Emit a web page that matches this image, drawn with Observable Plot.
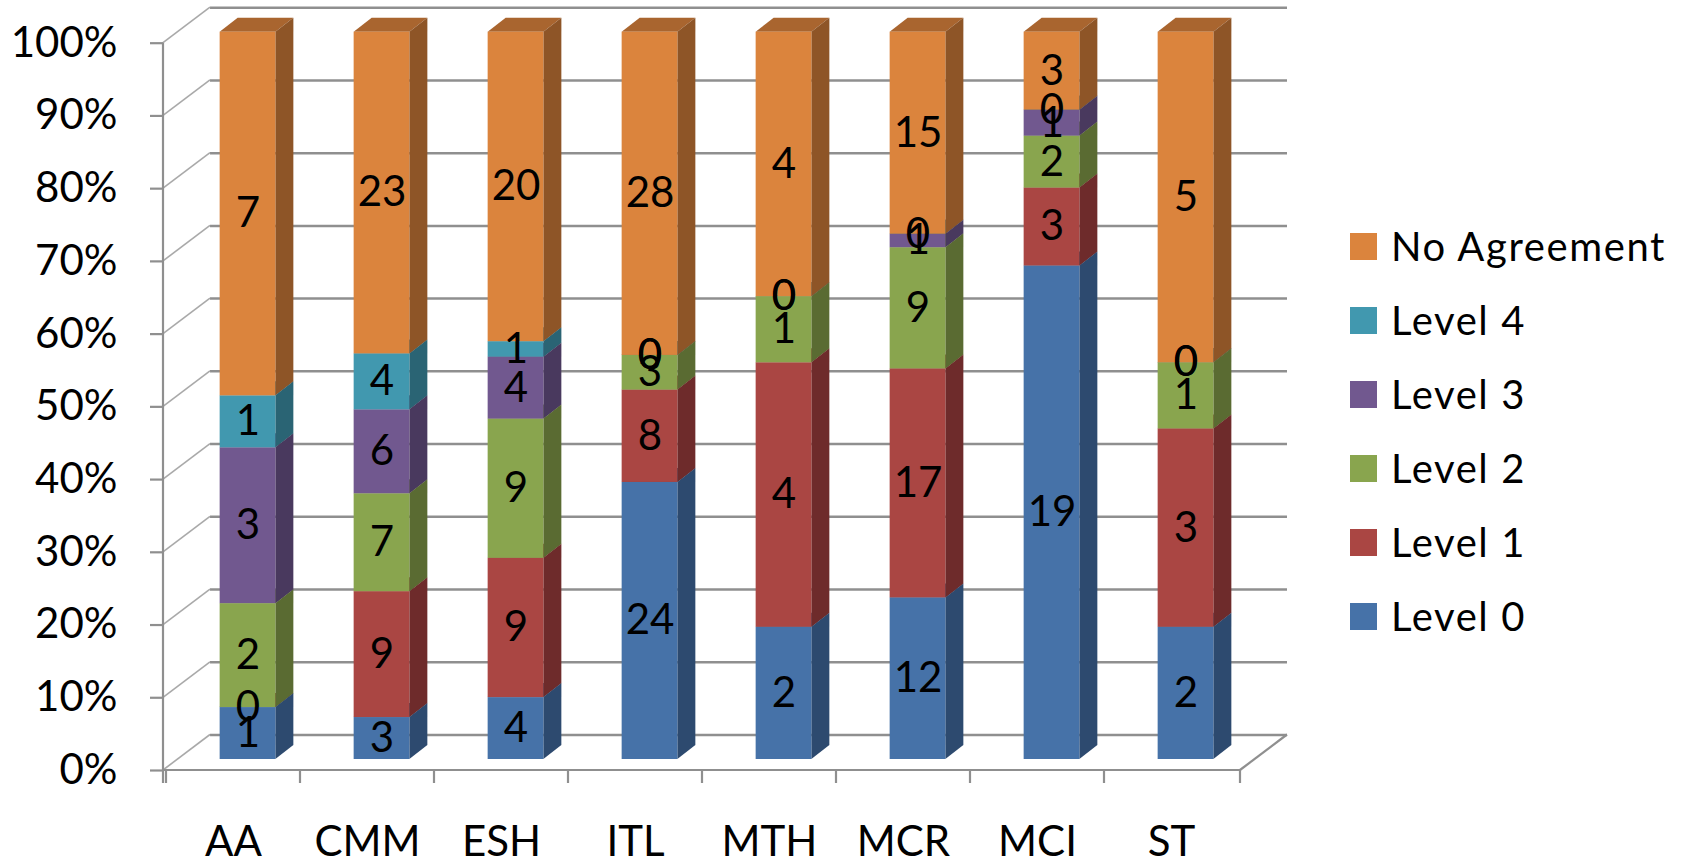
<!DOCTYPE html>
<html>
<head>
<meta charset="utf-8">
<script src="https://cdn.jsdelivr.net/npm/d3@7"></script>
<script src="https://cdn.jsdelivr.net/npm/@observablehq/plot@0.6"></script>
<style>
  html, body { margin: 0; padding: 0; background: #fff; overflow: hidden; }
  #chart { position: relative; width: 1694px; height: 865px; font-family: Lato, sans-serif; }
  #legend { position: absolute; left: 1350px; top: 209px; }
  #legend .item { display: flex; align-items: center; height: 74px; font-size: 40px; letter-spacing: 1.6px; color: #000; white-space: nowrap; }
  #legend .swatch { width: 27px; height: 27px; margin-right: 14px; flex: none; }
</style>
</head>
<body>
<div id="chart"></div>
<script>
// Agreement level counts per subject area
const subjects = ["AA", "CMM", "ESH", "ITL", "MTH", "MCR", "MCI", "ST"];
const levels = ["Level 0", "Level 1", "Level 2", "Level 3", "Level 4", "No Agreement"];
const level0      = [1, 3, 4, 24, 2, 12, 19, 2];
const level1      = [0, 9, 9, 8, 4, 17, 3, 3];
const level2      = [2, 7, 9, 3, 1, 9, 2, 1];
const level3      = [3, 6, 4, 0, 0, 1, 1, 0];
const level4      = [1, 4, 1, 0, 0, 0, 0, 0];
const noAgreement = [7, 23, 20, 28, 4, 15, 3, 5];
const yTicks = [0, 0.1, 0.2, 0.3, 0.4, 0.5, 0.6, 0.7, 0.8, 0.9, 1];

// Face colours of the extruded columns (front, right side, top)
const frontColors = ["#4672A8", "#AA4643", "#89A54E", "#71588F", "#4198AF", "#DB843D"];
const sideColors  = ["#2D4A6F", "#6E2B2B", "#5A6B32", "#49395E", "#2A6474", "#8E5527"];
const topColors   = ["#36587F", "#83332F", "#6B7F3C", "#57446F", "#327688", "#A9652F"];

const series = [level0, level1, level2, level3, level4, noAgreement];
const rows = subjects.flatMap((s, i) =>
  levels.map((level, j) => ({subject: s, level, count: series[j][i]}))
);
const li = (d) => levels.indexOf(d.level);

// Pseudo-3D geometry
const wall = {dx: 47, dy: -35.5};      // depth of the back wall
const shift = {dx: 14.5, dy: -11};     // columns sit mid-depth
const depth = {dx: 18, dy: -14};       // thickness of each column
const gridColor = "#8f8f8f";

const stack = (o) => Plot.stackY({x: "subject", y: "count", z: "level", offset: "normalize", ...o});

// Turns each rendered rect into the side or top face of a box
function extrude(face) {
  return function (index, scales, values, dimensions, context, next) {
    const g = next(index, scales, values, dimensions, context);
    d3.select(g).selectAll("rect").each(function () {
      const r = d3.select(this);
      const x = +r.attr("x"), y = +r.attr("y"), w = +r.attr("width"), h = +r.attr("height");
      const pts = face === "side"
        ? [[x + w, y], [x + w + depth.dx, y + depth.dy], [x + w + depth.dx, y + h + depth.dy], [x + w, y + h]]
        : [[x, y], [x + depth.dx, y + depth.dy], [x + w + depth.dx, y + depth.dy], [x + w, y]];
      d3.select(this.parentNode).insert("polygon", () => this)
        .attr("points", pts.map((p) => p.join(",")).join(" "))
        .attr("fill", r.attr("fill"));
      r.remove();
    });
    return g;
  };
}

// Diagonal gridlines on the left wall
function leftWall(index, scales, values, dimensions) {
  const g = d3.create("svg:g").attr("stroke", "#a9a9a9").attr("stroke-width", 1.6);
  const x0 = dimensions.marginLeft;
  for (const i of index) {
    const y = values.y[i];
    g.append("line").attr("x1", x0).attr("y1", y).attr("x2", x0 + wall.dx).attr("y2", y + wall.dy);
  }
  return g.node();
}

// Floor edge, category ticks and the vertical axis line
function floor(index, scales, values, dimensions) {
  const {width, marginLeft: ml, marginRight: mr, marginTop: mt} = dimensions;
  const y0 = values.y[index[0]];
  const xr = width - mr;
  const tick = 13;
  const g = d3.create("svg:g").attr("stroke", gridColor).attr("stroke-width", 2.2);
  g.append("line").attr("x1", ml).attr("y1", y0).attr("x2", xr).attr("y2", y0);
  g.append("line").attr("x1", xr).attr("y1", y0).attr("x2", xr + wall.dx).attr("y2", y0 + wall.dy);
  g.append("line").attr("x1", ml).attr("y1", mt).attr("x2", ml).attr("y2", y0 + tick);
  const edges = subjects.map((s) => scales.x(s)).concat(xr);
  for (const e of edges) {
    g.append("line").attr("x1", e).attr("y1", y0).attr("x2", e).attr("y2", y0 + tick);
  }
  return g.node();
}

const inset = 39.15;

const chart = Plot.plot({
  width: 1694,
  height: 865,
  marginTop: 42.7,
  marginBottom: 95,
  marginLeft: 163,
  marginRight: 454,
  style: {fontFamily: "Lato, sans-serif", fontSize: "42px", background: "#fff", color: "#000"},
  x: {domain: subjects, padding: 0, label: null},
  y: {domain: [0, 1], label: null},
  color: {type: "identity"},
  marks: [
    // back wall gridlines
    Plot.ruleY(yTicks, {dx: wall.dx, dy: wall.dy, stroke: gridColor, strokeWidth: 2.5}),
    // left wall
    Plot.ruleY(yTicks, {render: leftWall}),
    // floor
    Plot.ruleY([0], {render: floor}),
    // column faces: top, side, front
    Plot.barY(rows, stack({
      fill: (d) => topColors[li(d)], insetLeft: inset, insetRight: inset,
      dx: shift.dx, dy: shift.dy, render: extrude("top")
    })),
    Plot.barY(rows, stack({
      fill: (d) => sideColors[li(d)], insetLeft: inset, insetRight: inset,
      dx: shift.dx, dy: shift.dy, render: extrude("side")
    })),
    Plot.barY(rows, stack({
      fill: (d) => frontColors[li(d)], insetLeft: inset, insetRight: inset,
      dx: shift.dx, dy: shift.dy
    })),
    // value labels
    Plot.text(rows, stack({text: "count", dx: shift.dx, dy: shift.dy, fill: "#000", fontSize: 42})),
    Plot.axisY({
      ticks: yTicks, tickFormat: (d) => `${Math.round(d * 100)}%`,
      tickSize: 13, tickPadding: 33, label: null,
      stroke: gridColor, strokeWidth: 2.2, fill: "#000", fontSize: 42
    }),
    Plot.axisX({tickSize: 0, tickPadding: 56, label: null, fill: "#000", fontSize: 42})
  ]
});

const root = document.getElementById("chart");
root.appendChild(chart);

// Legend, listed from the top of the stack down
const legend = d3.select(root).append("div").attr("id", "legend");
const order = levels.map((l, i) => i).reverse();
for (const i of order) {
  const item = legend.append("div").attr("class", "item");
  item.append("div").attr("class", "swatch").style("background", frontColors[i]);
  item.append("span").text(levels[i]);
}
</script>
</body>
</html>
